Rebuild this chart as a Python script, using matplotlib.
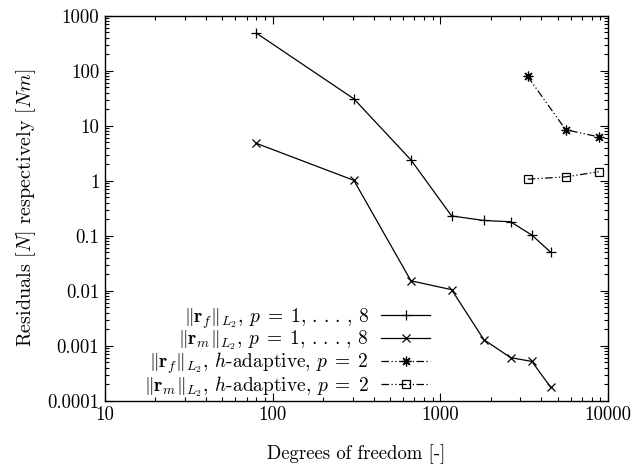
import matplotlib
matplotlib.use("Agg")
import matplotlib.pyplot as plt
from matplotlib.ticker import LogLocator, FixedLocator, FixedFormatter, NullFormatter

plt.rcParams['font.family'] = 'serif'
plt.rcParams['font.serif'] = ['cmr10']
plt.rcParams['mathtext.fontset'] = 'cm'
plt.rcParams['axes.unicode_minus'] = False
plt.rcParams['font.size'] = 13.5

# degrees of freedom, p = 1..8
dof_p = [80, 305, 668, 1167, 1820, 2625, 3516, 4560]
rf_p = [484, 31, 2.4, 0.23, 0.19, 0.18, 0.103, 0.05]
rm_p = [4.8, 1.02, 0.0152, 0.0105, 0.00129, 0.00061, 0.00052, 0.000175]

# h-adaptive, p = 2
dof_h = [3320, 5590, 8790]
rf_h = [79, 8.5, 6.3]
rm_h = [1.07, 1.18, 1.46]

xticks = [10, 100, 1000, 10000]
xticklabels = ['10', '100', '1000', '10000']
yticks = [1e-4, 1e-3, 1e-2, 1e-1, 1, 10, 100, 1000]
yticklabels = ['0.0001', '0.001', '0.01', '0.1', '1', '10', '100', '1000']

fig = plt.figure(figsize=(6.36, 4.65), dpi=100)
ax = fig.add_axes([0.165, 0.138, 0.791, 0.828])

dashdotdot = (0, (6, 2, 1, 2, 1, 2))
ax.plot(dof_p, rf_p, color='black', lw=0.9, marker='+', ms=7, mew=0.9,
        label=r'$\|\mathbf{r}_f\|_{L_2},\, p\;=\;1,\,.\,.\,.\,,\,8$')
ax.plot(dof_p, rm_p, color='black', lw=0.9, marker='x', ms=6, mew=0.9,
        label=r'$\|\mathbf{r}_m\|_{L_2},\, p\;=\;1,\,.\,.\,.\,,\,8$')
ax.plot(dof_h, rf_h, color='black', lw=0.9, ls=dashdotdot, marker=(8, 2, 0), ms=7, mew=0.9,
        label=r'$\|\mathbf{r}_f\|_{L_2}$, $h$-adaptive, $p\;=\;2$')
ax.plot(dof_h, rm_h, color='black', lw=0.9, ls=dashdotdot, marker='s', ms=6, mew=0.9,
        fillstyle='none', label=r'$\|\mathbf{r}_m\|_{L_2}$, $h$-adaptive, $p\;=\;2$')

ax.set_xscale('log')
ax.set_yscale('log')
ax.set_xlim(10, 10000)
ax.set_ylim(1e-4, 1000)

ax.xaxis.set_major_locator(FixedLocator(xticks))
ax.xaxis.set_major_formatter(FixedFormatter(xticklabels))
ax.yaxis.set_major_locator(FixedLocator(yticks))
ax.yaxis.set_major_formatter(FixedFormatter(yticklabels))
ax.xaxis.set_minor_locator(LogLocator(base=10, subs=range(2, 10), numticks=20))
ax.yaxis.set_minor_locator(LogLocator(base=10, subs=range(2, 10), numticks=20))
ax.xaxis.set_minor_formatter(NullFormatter())
ax.yaxis.set_minor_formatter(NullFormatter())

ax.tick_params(which='both', direction='in', top=True, right=True, width=0.8)
ax.tick_params(which='major', length=6, pad=4)
ax.tick_params(which='minor', length=3)
for s in ax.spines.values():
    s.set_linewidth(1.0)

ax.set_xlabel('Degrees of freedom [-]', labelpad=14)
ax.set_ylabel(r'Residuals $[N]$ respectively $[Nm]$', labelpad=7, fontsize=14.5)

ax.legend(loc='lower right', bbox_to_anchor=(0.646, 0.006), frameon=False,
          markerfirst=False, handlelength=2.5, handletextpad=0.65,
          labelspacing=-0.1, borderpad=0.0, borderaxespad=0.0, fontsize=14)

fig.savefig('out.png', dpi=100)
